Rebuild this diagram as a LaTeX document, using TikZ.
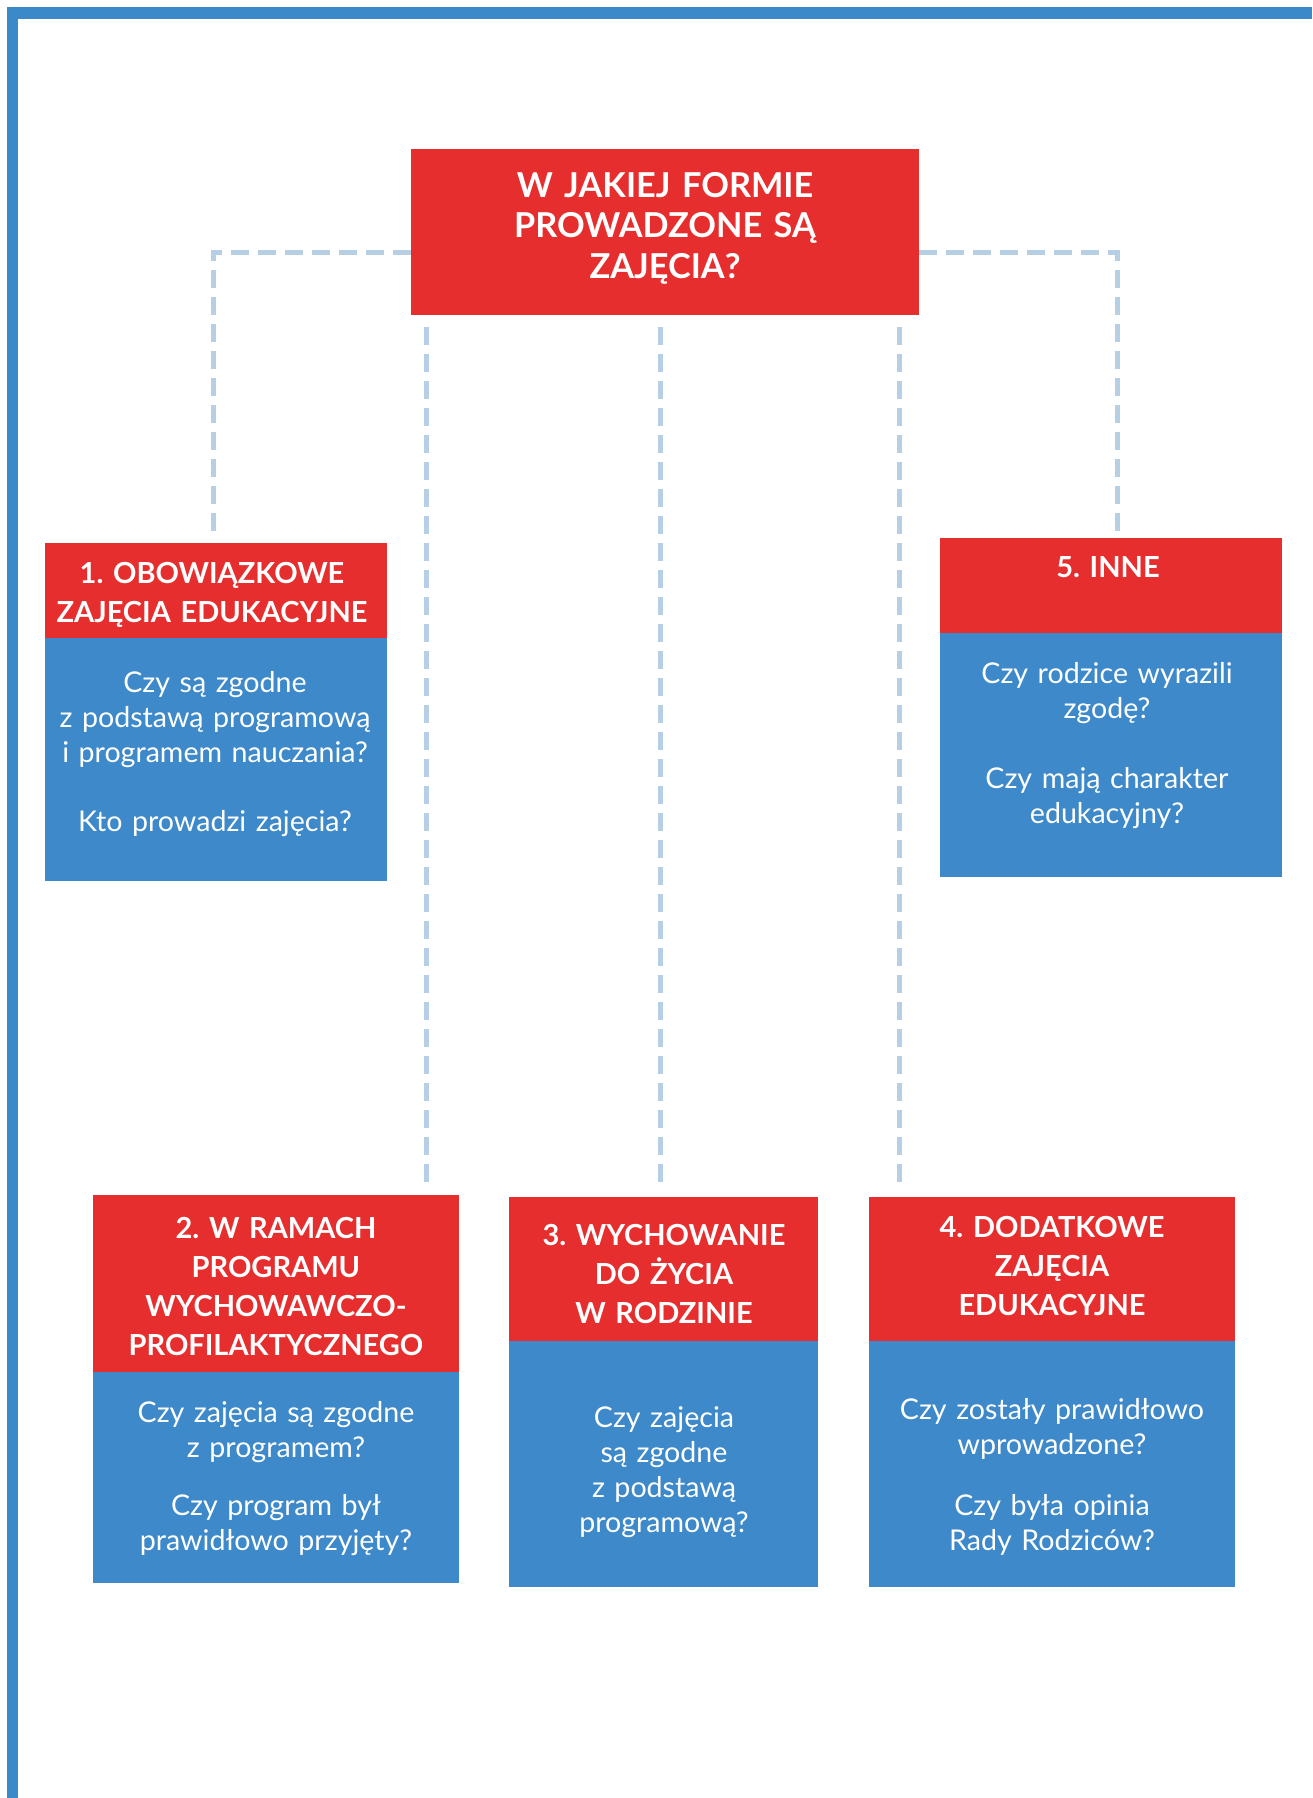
\documentclass[tikz,border=0pt]{standalone}
\usepackage{fontspec}
\setmainfont{Lato}
\frenchspacing
\definecolor{redbox}{HTML}{E52E2D}
\definecolor{bluebox}{HTML}{3D89C9}
\definecolor{frameblue}{HTML}{3C89C9}
\definecolor{dashblue}{HTML}{B7CFE5}
\tikzset{
  redb/.style={fill=redbox, draw=none, inner sep=0, outer sep=0},
  blueb/.style={fill=bluebox, draw=none, inner sep=0, outer sep=0},
  conn/.style={draw=dashblue, line width=5pt, dash pattern=on 18pt off 9pt},
  headtxt/.style={text=white, align=center, text width=#1, anchor=base, inner sep=0,
    font=\fontsize{29}{39}\selectfont\bfseries\frenchspacing},
  bodytxt/.style={text=white, align=center, text width=#1, anchor=base, inner sep=0,
    font=\fontsize{28.6}{35}\selectfont\frenchspacing},
}
\begin{document}
\begin{tikzpicture}[x=1pt,y=-1pt]
\useasboundingbox (0,0) rectangle (1312,1798);
% frame
\fill[frameblue] (7,7) rectangle (1312,19);
\fill[frameblue] (7,7) rectangle (18,1798);

% boxes
\node[redb, minimum width=508pt, minimum height=166pt] (top) at (665,232) {};
\node[redb, minimum width=342pt, minimum height=95pt] (h1) at (216,590.5) {};
\node[blueb, minimum width=342pt, minimum height=243pt] (b1) at (216,759.5) {};
\node[redb, minimum width=342pt, minimum height=95pt] (h5) at (1111,585.5) {};
\node[blueb, minimum width=342pt, minimum height=244pt] (b5) at (1111,755) {};
\node[redb, minimum width=366pt, minimum height=177pt] (h2) at (276,1283.5) {};
\node[blueb, minimum width=366pt, minimum height=211pt] (b2) at (276,1477.5) {};
\node[redb, minimum width=309pt, minimum height=144pt] (h3) at (663.5,1269) {};
\node[blueb, minimum width=309pt, minimum height=246pt] (b3) at (663.5,1464) {};
\node[redb, minimum width=366pt, minimum height=144pt] (h4) at (1052,1269) {};
\node[blueb, minimum width=366pt, minimum height=246pt] (b4) at (1052,1464) {};

% connectors
\coordinate (yl) at (0,252);
\coordinate (c2) at (426,0);
\coordinate (c3) at (660,0);
\coordinate (c4) at (899,0);
\draw[conn, shorten >=9pt] (top.west |- yl) -| ([xshift=-3pt]h1.north);
\draw[conn, shorten >=4pt] (top.east |- yl) -| ([xshift=6pt]h5.north);
\draw[conn, shorten <=12pt, shorten >=8pt] (top.south -| c2) -- (h2.north -| c2);
\draw[conn, shorten <=12pt, shorten >=10pt] (top.south -| c3) -- (h3.north -| c3);
\draw[conn, shorten <=12pt, shorten >=10pt] (top.south -| c4) -- (h4.north -| c4);

% texts
\node[text=white, align=center, text width=480pt, anchor=base, inner sep=0,
  font=\fontsize{34.3}{40.5}\selectfont\bfseries\frenchspacing] (tq) at (665,197)
  {W JAKIEJ FORMIE\\PROWADZONE SĄ\\ZAJĘCIA?};

\node[headtxt=340pt] (t1h) at (212,583) {1. OBOWIĄZKOWE\\ZAJĘCIA EDUKACYJNE};
\node[bodytxt=340pt] (t1b) at (215,692) {Czy są zgodne\\z podstawą programową\\i programem nauczania?\\[34pt]Kto prowadzi zajęcia?};

\node[headtxt=340pt] (t5h) at (1108,577) {5. INNE};
\node[bodytxt=340pt] (t5b) at (1107,683) {Czy rodzice wyrazili\\zgodę?\\[35pt]Czy mają charakter\\edukacyjny?};

\node[headtxt=360pt] (t2h) at (276,1238) {2. W RAMACH\\PROGRAMU\\WYCHOWAWCZO-\\PROFILAKTYCZNEGO};
\node[bodytxt=360pt] (t2b) at (276,1422) {Czy zajęcia są zgodne\\z programem?\\[23pt]Czy program był\\prawidłowo przyjęty?};

\node[headtxt=305pt] (t3h) at (664,1245) {3. WYCHOWANIE\\DO ŻYCIA\\W RODZINIE};
\node[bodytxt=305pt] (t3b) at (664,1427) {Czy zajęcia\\są zgodne\\z podstawą\\programową?};

\node[headtxt=360pt] (t4h) at (1052,1237) {4. DODATKOWE\\ZAJĘCIA\\EDUKACYJNE};
\node[bodytxt=360pt] (t4b) at (1052,1419) {Czy zostały prawidłowo\\wprowadzone?\\[26pt]Czy była opinia\\Rady Rodziców?};
\end{tikzpicture}
\end{document}
